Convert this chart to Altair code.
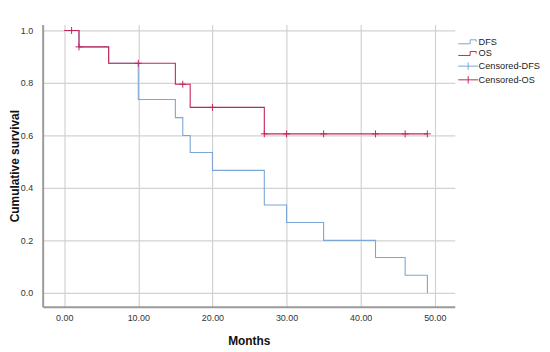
import altair as alt
import pandas as pd

# DFS Kaplan-Meier curve (step points)
dfs_time = [0, 2, 6, 10, 15, 16, 17, 20, 27, 30, 35, 42, 46, 49]
dfs_surv = [1.0, 0.9375, 0.875, 0.737, 0.668, 0.6, 0.535, 0.467, 0.335, 0.268, 0.2, 0.135, 0.067, 0.0]

# OS Kaplan-Meier curve (step points)
os_time = [0, 2, 6, 15, 17, 27, 49]
os_surv = [1.0, 0.9375, 0.875, 0.795, 0.707, 0.606, 0.606]

# censored OS observations
cens_os_time = [1, 2, 10, 16, 20, 27, 30, 35, 42, 46, 49]
cens_os_surv = [1.0, 0.9375, 0.875, 0.795, 0.707, 0.606, 0.606, 0.606, 0.606, 0.606, 0.606]

legend_names = ["DFS", "OS", "Censored-DFS", "Censored-OS"]
x_ticks = [0, 10, 20, 30, 40, 50]
y_ticks = [0.0, 0.2, 0.4, 0.6, 0.8, 1.0]

BLUE = "#7aa6d8"
RED = "#c4265a"
FONT = "Liberation Sans"

dfs_df = pd.DataFrame({"t": dfs_time, "s": dfs_surv})
os_df = pd.DataFrame({"t": os_time, "s": os_surv})
cens_df = pd.DataFrame({"t": cens_os_time, "s": cens_os_surv})
leg_df = pd.DataFrame({"t": [-100] * 4, "s": [-100] * 4, "series": legend_names})

xscale = alt.Scale(domain=[-2.9, 52.7], nice=False, zero=False)
yscale = alt.Scale(domain=[-0.053, 1.023], nice=False, zero=False)

xaxis = alt.Axis(values=x_ticks, format=".2f", title="Months", grid=True,
                 ticks=False, labelPadding=7, titlePadding=13)
yaxis = alt.Axis(values=y_ticks, format=".1f", title="Cumulative survival", grid=True,
                 ticks=False, labelPadding=10, titlePadding=-1)

X = alt.X("t:Q", scale=xscale, axis=xaxis)
Y = alt.Y("s:Q", scale=yscale, axis=yaxis)

dfs_line = alt.Chart(dfs_df).mark_line(interpolate="step-after", strokeWidth=1.1).encode(
    x=X, y=Y, color=alt.value(BLUE))
os_line = alt.Chart(os_df).mark_line(interpolate="step-after", strokeWidth=1.1).encode(
    x=X, y=Y, color=alt.value(RED))
cens = alt.Chart(cens_df).mark_point(
    shape="M-1,0 H1 M0,-1 V1", size=49, filled=False, strokeWidth=1, opacity=1
).encode(x=X, y=Y, color=alt.value(RED))

step_path = "M-2,0.4 H0.4 V-0.4 H1.6 V0"
cross_path = "M-2,0 H2 M0,-0.75 V0.75"

leg = alt.Legend(title=None, orient="none", legendX=424, legendY=12,
                 symbolSize=100, symbolStrokeWidth=1, labelOffset=5,
                 rowPadding=0.8, padding=0, labelFont=FONT, labelFontSize=9.3,
                 labelColor="#222222")

legend_layer = alt.Chart(leg_df).mark_point(filled=False, size=100, strokeWidth=1, opacity=1, clip=True).encode(
    x=X, y=Y,
    color=alt.Color("series:N",
                    scale=alt.Scale(domain=legend_names, range=[BLUE, RED, BLUE, RED]),
                    legend=leg),
    shape=alt.Shape("series:N",
                    scale=alt.Scale(domain=legend_names,
                                    range=[step_path, step_path, cross_path, cross_path]),
                    legend=leg),
)

chart = alt.layer(dfs_line, os_line, cens, legend_layer).properties(
    width=416, height=285,
    autosize=alt.AutoSizeParams(type="none"),
    padding={"left": 35, "top": 15, "right": 88, "bottom": 42},
).configure_view(stroke=None).configure_axis(
    domainColor="#9a9a9a", domainWidth=2, gridColor="#d2d2d2", gridWidth=1.2,
    labelFont=FONT, labelFontSize=9, labelColor="#333333",
    titleFont=FONT, titleFontSize=12, titleFontWeight="bold", titleColor="#111111",
)

chart.save("out.html", embed_options={"renderer": "svg", "actions": False})
